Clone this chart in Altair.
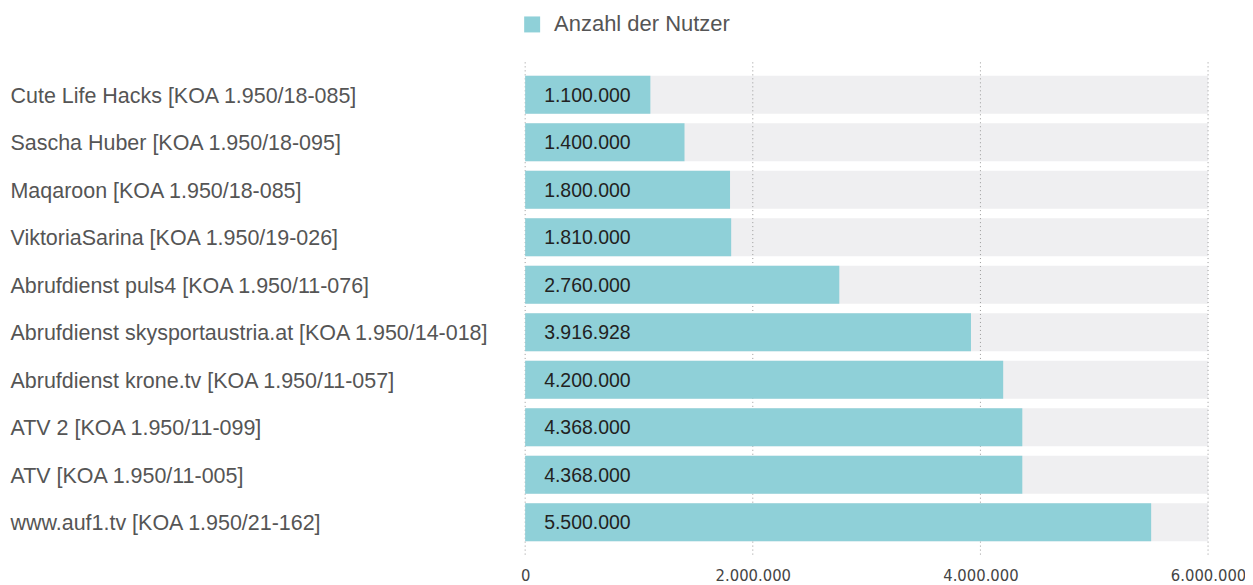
import altair as alt
import pandas as pd

categories = [
    "Cute Life Hacks [KOA 1.950/18-085]",
    "Sascha Huber [KOA 1.950/18-095]",
    "Maqaroon [KOA 1.950/18-085]",
    "ViktoriaSarina [KOA 1.950/19-026]",
    "Abrufdienst puls4 [KOA 1.950/11-076]",
    "Abrufdienst skysportaustria.at [KOA 1.950/14-018]",
    "Abrufdienst krone.tv [KOA 1.950/11-057]",
    "ATV 2 [KOA 1.950/11-099]",
    "ATV [KOA 1.950/11-005]",
    "www.auf1.tv [KOA 1.950/21-162]",
]
values = [1100000, 1400000, 1800000, 1810000, 2760000, 3916928, 4200000, 4368000, 4368000, 5500000]
ticks = [0, 2000000, 4000000, 6000000]
series = "Anzahl der Nutzer"
axis_max = 6000000

df = pd.DataFrame({"cat": categories, "value": values})
df["label"] = [f"{v:,}".replace(",", ".") for v in values]
df["series"] = series
df["bg"] = axis_max
grid_df = pd.DataFrame({"t": ticks})

FONT = "Liberation Sans"
NARROW = "'Liberation Sans Narrow', 'DejaVu Sans Condensed', 'Liberation Sans', sans-serif"

xscale = alt.Scale(domain=[0, axis_max], nice=False, zero=True)
yscale = alt.Scale(domain=categories, paddingInner=0.2, paddingOuter=0.28)

x_axis = alt.Axis(
    values=ticks, grid=False, domain=False, ticks=False, title=None,
    labelExpr="replace(format(datum.value, ','), /,/g, '.')",
    labelFont=NARROW, labelFontSize=16.5, labelColor="#444", labelPadding=13,
    labelFlush=False, labelOverlap=False,
)
y_axis = alt.Axis(
    title=None, domain=False, ticks=False, labelAlign="left",
    labelPadding=516, labelLimit=600, labelFont=FONT, labelFontSize=21.5,
    labelColor="#555", labelOffset=2,
)

base = alt.Chart(df)

bg = base.mark_bar(color="#efeff1").encode(
    x=alt.X("bg:Q", scale=xscale, axis=x_axis),
    y=alt.Y("cat:N", scale=yscale, axis=y_axis, sort=categories),
)

grid = alt.Chart(grid_df).mark_rule(color="#999999", strokeDash=[1, 3], strokeWidth=1).encode(
    x=alt.X("t:Q", scale=xscale)
)

bars = base.mark_bar().encode(
    x=alt.X("value:Q", scale=xscale),
    y=alt.Y("cat:N", scale=yscale, sort=categories),
    color=alt.Color(
        "series:N",
        scale=alt.Scale(domain=[series], range=["#8fd0d8"]),
        legend=alt.Legend(
            title=None, orient="none", legendX=-4, legendY=-49,
            symbolType="square", symbolSize=256, symbolStrokeWidth=0,
            labelFont=FONT, labelFontSize=22, labelColor="#555",
            labelOffset=11, labelLimit=400, padding=0,
        ),
    ),
)

text = base.mark_text(align="left", baseline="middle", dx=19, dy=1, font=FONT, fontSize=19.5, color="#222222").encode(
    x=alt.datum(0),
    y=alt.Y("cat:N", scale=yscale, sort=categories),
    text="label:N",
)

chart = alt.layer(bg, grid, bars, text).properties(
    width=684, height=493,
    autosize=alt.AutoSizeParams(type="none"),
    padding={"left": 518, "top": 54, "right": 37, "bottom": 30},
).configure_view(stroke=None)

chart.save("out.html", embed_options={"renderer": "svg", "actions": False})
